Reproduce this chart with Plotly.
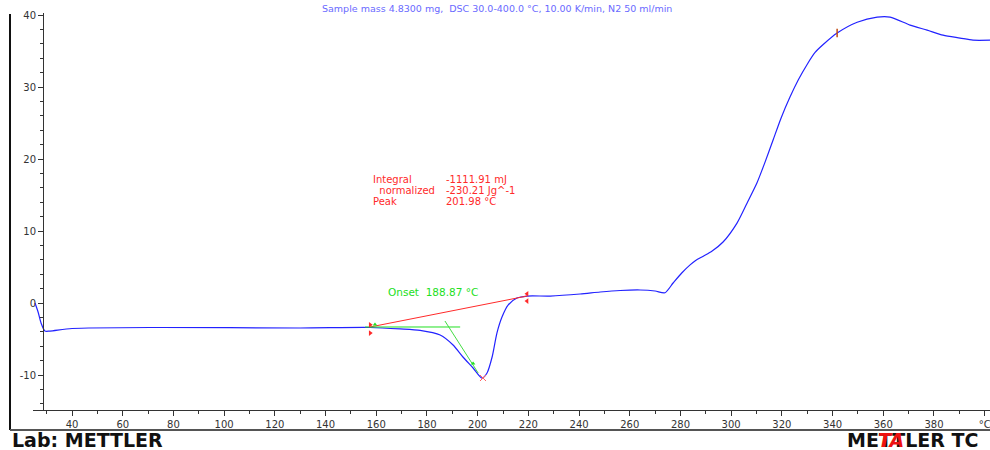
import plotly.graph_objects as go

# ---- data ----
temp_c = [25.4, 26.6, 27.8, 29.3, 31.3, 40.0, 74.7, 130.0, 157.6, 169.4, 177.3, 185.2,
          190.3, 194.2, 198.2, 201.7, 203.7, 205.7, 207.6, 209.6, 212.0, 215.5, 219.5,
          228.6, 240.4, 248.3, 256.2, 264.1, 270.0, 273.9, 277.1, 280.5, 283.8, 286.0,
          289.0, 292.5, 296.8, 302.3, 306.3, 310.2, 313.4, 316.5, 319.7, 323.2, 326.5,
          329.9, 333.1, 336.3, 341.8, 349.7, 357.6, 362.7, 370.6, 377.3, 383.6, 390.3,
          395.4, 402.1]
heat_flow = [0.0, -1.25, -2.8, -3.9, -3.9, -3.54, -3.4, -3.47, -3.4, -3.6, -3.8, -4.44,
             -5.83, -7.5, -9.03, -10.42, -9.72, -7.5, -4.17, -1.94, -0.28, 0.69, 0.97,
             0.97, 1.25, 1.53, 1.74, 1.81, 1.67, 1.43, 2.78, 4.17, 5.3, 5.9,
             6.5, 7.22, 8.47, 11.1, 13.9, 16.7, 19.6, 22.6, 25.7, 28.6, 31.0,
             33.1, 34.8, 35.9, 37.5, 39.0, 39.7, 39.7, 38.6, 37.9, 37.2, 36.8,
             36.5, 36.5]

baseline_t = [157.6, 219.5]
baseline_v = [-3.33, 0.97]
onset_base_t = [155.6, 193.1]
onset_base_v = [-3.33, -3.33]
tangent_t = [187.1, 200.2]
tangent_v = [-2.5, -9.72]
peak_t = [202.1]
peak_v = [-10.42]
limit_mark_t = [341.8]
limit_mark_v = [37.5]

x_ticks = [40, 60, 80, 100, 120, 140, 160, 180, 200, 220, 240, 260, 280, 300, 320,
           340, 360, 380, 400]
x_tick_text = ["40", "60", "80", "100", "120", "140", "160", "180", "200", "220",
               "240", "260", "280", "300", "320", "340", "360", "380", "°C"]
y_ticks = [-10, 0, 10, 20, 30, 40]
y_tick_text = ["-10", "0", "10", "20", "30", "40"]

result_labels = ["Integral", "  normalized", "Peak"]
result_values = ["-1111.91 mJ", "-230.21 Jg^-1", "201.98 °C"]
onset_label = "Onset  188.87 °C"

# ---- geometry helpers (pixel -> paper) ----
W, H = 990, 450
ML, MR, MT, MB = 33, 0, 13, 40
PW, PH = W - ML - MR, H - MT - MB


def px(xp):
    return (xp - ML) / PW


def py(yp):
    return (H - MB - yp) / PH


FONT = "DejaVu Sans, Liberation Sans, Arial, sans-serif"
RED = "#ff2a2a"
GREEN = "#22e022"

fig = go.Figure()

fig.add_trace(go.Scatter(x=temp_c, y=heat_flow, mode="lines",
                         line=dict(color="#2222ff", width=1.2, shape="spline",
                                   smoothing=0.7),
                         hoverinfo="skip", showlegend=False))
fig.add_trace(go.Scatter(x=baseline_t, y=baseline_v, mode="lines",
                         line=dict(color=RED, width=1), showlegend=False))
fig.add_trace(go.Scatter(x=onset_base_t, y=onset_base_v, mode="lines",
                         line=dict(color=GREEN, width=1), showlegend=False))
fig.add_trace(go.Scatter(x=tangent_t, y=tangent_v, mode="lines",
                         line=dict(color="#44dd44", width=1), showlegend=False))
# integration limit markers
fig.add_trace(go.Scatter(x=[baseline_t[0], baseline_t[0]],
                         y=[baseline_v[0] + 0.3, baseline_v[0] - 0.85],
                         mode="markers",
                         marker=dict(symbol="triangle-right", size=5, color=RED),
                         showlegend=False))
fig.add_trace(go.Scatter(x=[baseline_t[1], baseline_t[1]],
                         y=[baseline_v[1] + 0.3, baseline_v[1] - 0.7],
                         mode="markers",
                         marker=dict(symbol="triangle-left", size=5, color=RED),
                         showlegend=False))
fig.add_trace(go.Scatter(x=[159.5, 198.2], y=[-3.0, -8.4], mode="markers",
                         marker=dict(symbol="triangle-up", size=4, color=GREEN),
                         showlegend=False))
fig.add_trace(go.Scatter(x=peak_t, y=peak_v, mode="markers",
                         marker=dict(symbol="x-thin", size=6,
                                     line=dict(color="#ff6060", width=1)),
                         showlegend=False))
fig.add_trace(go.Scatter(x=limit_mark_t, y=limit_mark_v, mode="markers",
                         marker=dict(symbol="line-ns", size=6,
                                     line=dict(color="#c04a10", width=1.5)),
                         showlegend=False))

annotations = []
row_y = [17.15, 15.65, 14.1]
for lab, val, yy in zip(result_labels, result_values, row_y):
    annotations.append(dict(x=157.95, y=yy, xref="x", yref="y",
                            text=lab.replace(" ", "&nbsp;"),
                            showarrow=False, xanchor="left", yanchor="middle",
                            font=dict(family=FONT, size=10, color=RED)))
    annotations.append(dict(x=186.7, y=yy, xref="x", yref="y", text=val,
                            showarrow=False, xanchor="left", yanchor="middle",
                            font=dict(family=FONT, size=10, color=RED)))
annotations.append(dict(x=163.9, y=1.53, xref="x", yref="y",
                        text=onset_label.replace(" ", "&nbsp;"),
                        showarrow=False, xanchor="left", yanchor="middle",
                        font=dict(family=FONT, size=10.5, color=GREEN)))
# header text (faint, mostly illegible in the reference)
annotations.append(dict(x=px(497), y=py(9), xref="paper", yref="paper",
                        text="Sample&nbsp;mass&nbsp;4.8300&nbsp;mg,&nbsp;&nbsp;DSC&nbsp;30.0-400.0&nbsp;°C,&nbsp;10.00&nbsp;K/min,&nbsp;N2&nbsp;50&nbsp;ml/min",
                        showarrow=False, xanchor="center", yanchor="middle",
                        font=dict(family=FONT, size=9.5, color="#6a6aff")))
annotations.append(dict(x=px(10), y=py(440), xref="paper", yref="paper",
                        text="<b>Lab: METTLER</b>", showarrow=False,
                        xanchor="left", yanchor="middle",
                        font=dict(family=FONT, size=19, color="#111111")))
annotations.append(dict(x=px(845), y=py(440), xref="paper", yref="paper",
                        text="<b>METTLER TC</b>", showarrow=False,
                        xanchor="left", yanchor="middle",
                        font=dict(family=FONT, size=19, color="#111111")))
annotations.append(dict(x=px(891), y=py(440), xref="paper", yref="paper",
                        text="<b><i>TA</i></b>", showarrow=False,
                        xanchor="center", yanchor="middle",
                        font=dict(family=FONT, size=19, color="#ee1111")))

shapes = [
    dict(type="line", xref="paper", yref="paper", x0=px(10), x1=px(10),
         y0=py(14), y1=py(430), line=dict(color="#111111", width=2)),
    dict(type="line", xref="paper", yref="paper", x0=px(10), x1=px(990),
         y0=py(430), y1=py(430), line=dict(color="#555555", width=2)),
]

fig.update_layout(
    width=W, height=H,
    margin=dict(l=ML, r=MR, t=MT, b=MB),
    paper_bgcolor="white", plot_bgcolor="white",
    showlegend=False,
    annotations=annotations,
    shapes=shapes,
    xaxis=dict(range=[24.6, 402.1], domain=[0, 1], showgrid=False, zeroline=False,
               showline=True, linecolor="#333333", linewidth=1,
               ticks="outside", ticklen=5, tickcolor="#333333",
               tickvals=x_ticks, ticktext=x_tick_text,
               ticklabeloverflow="allow",
               tickfont=dict(family=FONT, size=10, color="#333333"),
               minor=dict(dtick=10, tick0=0, ticks="outside", ticklen=3,
                          tickcolor="#333333")),
    yaxis=dict(range=[-14.86, 40.28], anchor="free", position=px(43),
               showgrid=False, zeroline=False,
               showline=True, linecolor="#333333", linewidth=1,
               ticks="outside", ticklen=5, tickcolor="#333333",
               tickvals=y_ticks, ticktext=y_tick_text,
               tickfont=dict(family=FONT, size=10, color="#333333"),
               minor=dict(dtick=2, tick0=0, ticks="outside", ticklen=3,
                          tickcolor="#333333")),
)

fig.write_html("out.html")
